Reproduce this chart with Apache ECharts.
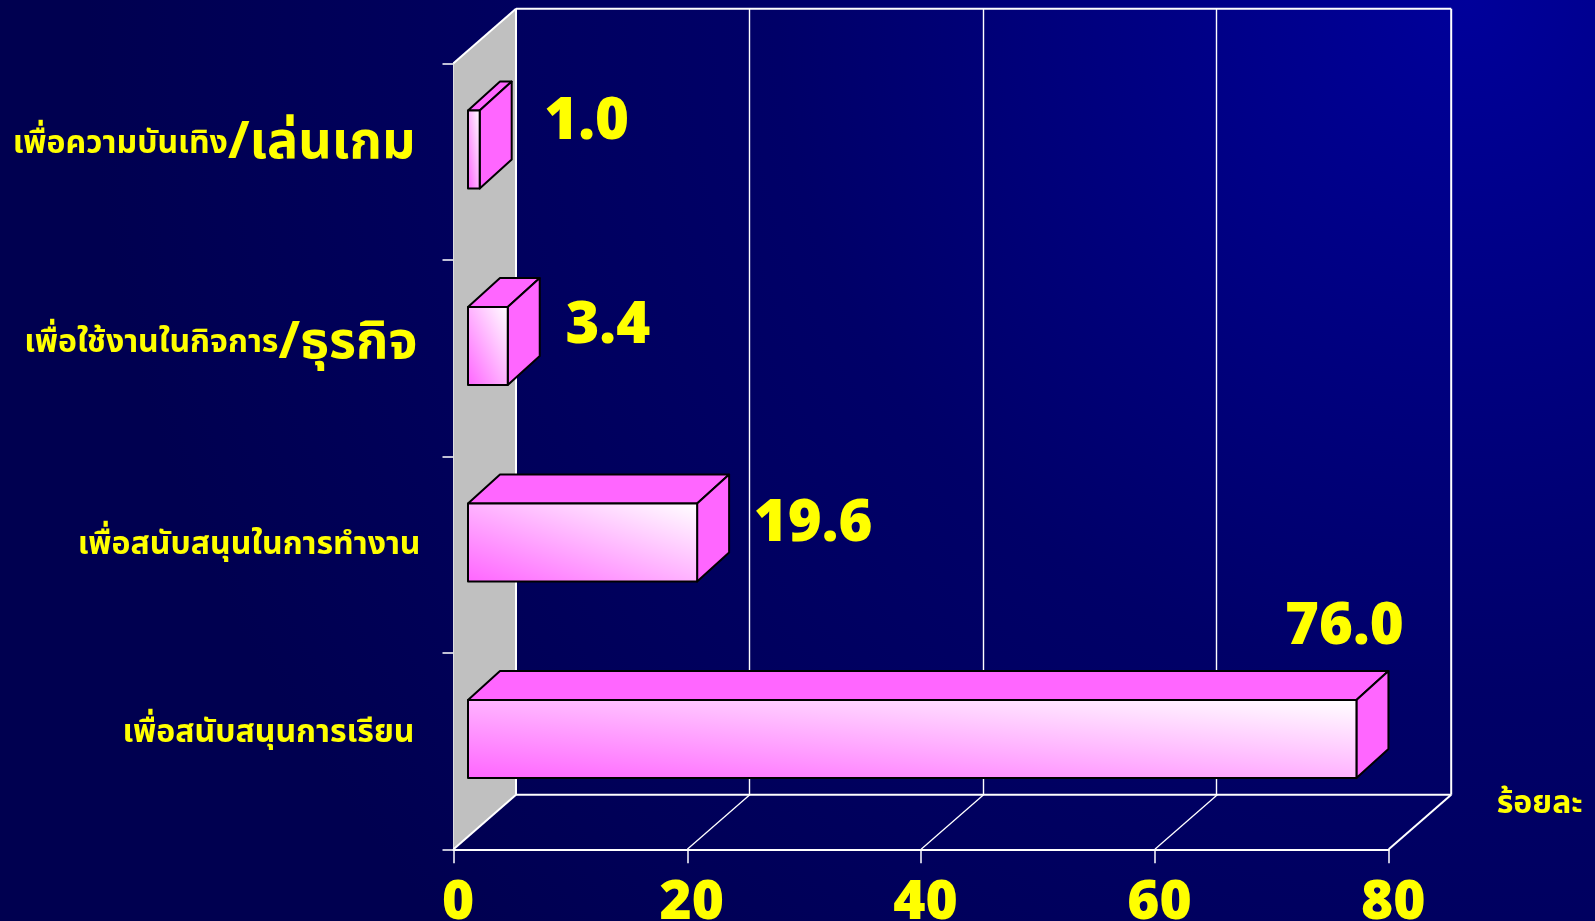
<!DOCTYPE html>
<html><head><meta charset="utf-8">
<style>html,body{margin:0;padding:0;background:#000060}#c{width:1595px;height:921px}</style>
<script src="https://cdn.jsdelivr.net/npm/echarts@6/dist/echarts.min.js"></script>
</head><body><div id="c"></div>
<script>
const categoryMain = ['เพื่อความบันเทิง', 'เพื่อใช้งานในกิจการ', 'เพื่อสนับสนุนในการทำงาน', 'เพื่อสนับสนุนการเรียน'];
const categorySuffix = ['/เล่นเกม', '/ธุรกิจ', '', ''];
const categories = categoryMain.map((m, i) => m + categorySuffix[i]);
const values = [1.0, 3.4, 19.6, 76.0];
const valueLabels = ['1.0', '3.4', '19.6', '76.0'];
const xTicks = [0, 20, 40, 60, 80];
const unitName = 'ร้อยละ';

const WALL = [62.5, -54.5], BAR_D = [32, -29], BAR_OFF = [14.5, -12], BAR_H = 78;
const labelOffsets = [[107, -39], [100, -32], [116, -30], [-12, -124]];
const YEL = '#ffff00', MAG = '#ff66ff';
const numFont = '"Noto Sans", sans-serif';
const thaiFont = '"Noto Sans", "Noto Sans Thai", "Liberation Sans", sans-serif';

function wallItem(params, api) {
  const g = params.coordSys, l = g.x, r = g.x + g.width, t = g.y, b = g.y + g.height;
  const kids = [];
  const line = (x1, y1, x2, y2, w) => kids.push({type:'line', shape:{x1,y1,x2,y2}, style:{stroke:'#fff', lineWidth:w}});
  kids.push({type:'polygon', shape:{points:[[l,b],[l+WALL[0],b+WALL[1]],[l+WALL[0],t+WALL[1]],[l,t]]}, style:{fill:'#c0c0c0'}});
  line(l, t, l+WALL[0], t+WALL[1], 2);
  line(l+WALL[0], t+WALL[1], r+WALL[0], t+WALL[1], 2);
  line(r+WALL[0], t+WALL[1], r+WALL[0], b+WALL[1], 2);
  line(l+WALL[0], t+WALL[1], l+WALL[0], b+WALL[1], 2);
  line(l+WALL[0], b+WALL[1], r+WALL[0], b+WALL[1], 2);
  line(l, b, l+WALL[0], b+WALL[1], 2);
  line(r, b, r+WALL[0], b+WALL[1], 2);
  xTicks.slice(1, -1).forEach(v => {
    const x = api.coord([v, 0])[0];
    line(Math.round(x+WALL[0])-0.5, t+WALL[1], Math.round(x+WALL[0])-0.5, b+WALL[1], 1.4);
    line(x, b, x+WALL[0], b+WALL[1], 1.3);
  });
  kids.push({type:'text', x:r+108, y:b-45, style:{text:unitName, fill:YEL, font:'bold 32px '+thaiFont, align:'left', verticalAlign:'middle'}});
  return {type:'group', children:kids};
}
function barItem(params, api) {
  const i = api.value(1), end = api.coord([api.value(0), i]), start = api.coord([0, i]);
  const x0 = start[0]+BAR_OFF[0], x1 = end[0]+BAR_OFF[0], cy = end[1]+BAR_OFF[1];
  const y0 = cy-BAR_H/2, y1 = cy+BAR_H/2, dx = BAR_D[0], dy = BAR_D[1];
  const w = x1-x0, h = y1-y0, L = Math.hypot(w,h), k = w*h/(L*L);
  const cx = (x0+x1)/2, gx = h*k, gy = -w*k;
  const stroke = {stroke:'#000', lineWidth:2, lineJoin:'round'};
  const off = labelOffsets[i];
  return {type:'group', children:[
    {type:'polygon', shape:{points:[[x0,y0],[x1,y0],[x1+dx,y0+dy],[x0+dx,y0+dy]]}, style:{fill:MAG, ...stroke}},
    {type:'polygon', shape:{points:[[x1,y0],[x1+dx,y0+dy],[x1+dx,y1+dy],[x1,y1]]}, style:{fill:MAG, ...stroke}},
    {type:'rect', shape:{x:x0,y:y0,width:w,height:h}, style:{fill:{type:'linear',global:true,x:cx-gx,y:cy-gy,x2:cx+gx,y2:cy+gy,
      colorStops:[{offset:0,color:MAG},{offset:1,color:'#ffffff'}]}, ...stroke}},
    {type:'text', x:x1+off[0], y:end[1]+off[1], style:{text:valueLabels[i], fill:YEL, font:'900 58px '+numFont, align:'center', verticalAlign:'middle'}}
  ]};
}
const chart = echarts.init(document.getElementById('c'), null, {renderer:'canvas'});
const aBase = {color:YEL,fontFamily:thaiFont,fontWeight:'bold',fontSize:32};
const bBase = {color:YEL,fontFamily:thaiFont,fontWeight:'bold',fontSize:52};
chart.setOption({
  animation:false,
  backgroundColor:{type:'radial',x:0.92,y:0,r:1.5,colorStops:[{offset:0,color:'#00009a'},{offset:0.5,color:'#000068'},{offset:1,color:'#000050'}]},
  grid:{left:453.5,top:63.3,width:935.2,height:786,outerBoundsMode:'none'},
  xAxis:{type:'value',min:0,max:80,interval:20,
    axisLine:{show:true,onZero:false,lineStyle:{color:'#fff',width:2}},
    axisTick:{show:true,length:14,lineStyle:{color:'#fff',width:1.5}},
    splitLine:{show:false},
    axisLabel:{color:YEL,fontFamily:numFont,fontWeight:900,fontSize:55,margin:27,padding:[0,0,0,9]}},
  yAxis:{type:'category',data:categories,inverse:true,
    axisLine:{show:true,lineStyle:{color:'#fff',width:2}},
    axisTick:{show:true,length:11,lineStyle:{color:'#fff',width:1.5}},
    axisLabel:{margin:33,padding:[0,0,30,0],
      formatter:(v,i)=>{
        if(i===0) return '{a0|'+categoryMain[i]+'}{b0|'+categorySuffix[i]+'}';
        if(i===1) return '{a|'+categoryMain[i]+'}{b1|'+categorySuffix[i]+'}';
        if(i===2) return '{a2|'+categoryMain[i]+'}';
        return '{a3|'+categoryMain[i]+'}';
      },
      rich:{a:aBase,
        a0:{...aBase,padding:[0,0,6,0]},
        b0:{...bBase,padding:[0,5,6,0]},
        b1:{...bBase,padding:[0,3,0,0]},
        a2:{...aBase,padding:[10,0,0,0]},
        a3:{...aBase,padding:[0,6,6,0]}}}},
  series:[
    {type:'custom',name:'walls',coordinateSystem:'cartesian2d',z:1,silent:true,clip:false,data:[[0,0]],renderItem:wallItem,encode:{x:0,y:1}},
    {type:'custom',name:'ร้อยละ',coordinateSystem:'cartesian2d',z:3,clip:false,data:values.map((v,i)=>[v,i]),renderItem:barItem,encode:{x:0,y:1}}
  ]
});
</script></body></html>
